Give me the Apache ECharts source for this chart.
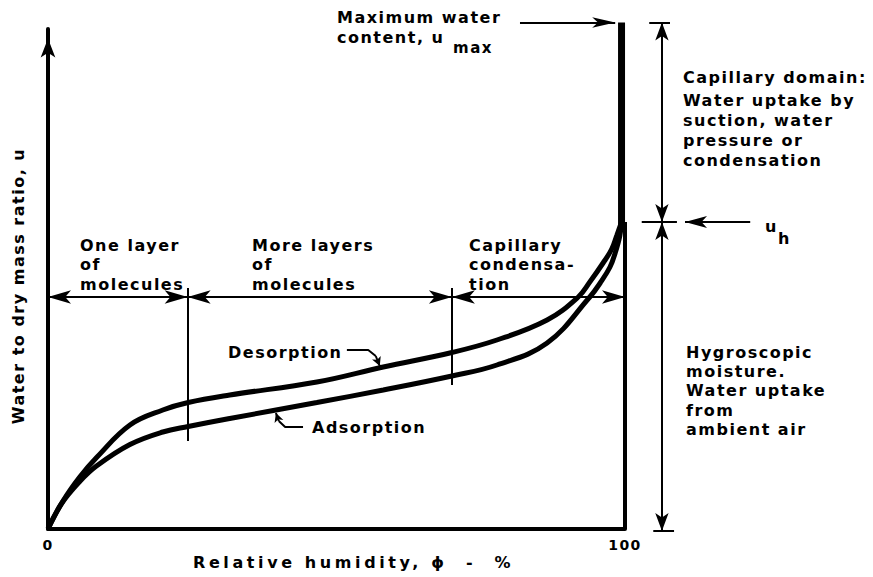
<!DOCTYPE html>
<html><head><meta charset="utf-8">
<script src="https://cdn.jsdelivr.net/npm/echarts@6/dist/echarts.min.js"></script>
<style>
html,body{margin:0;padding:0;background:#fff;}
#chart{width:873px;height:577px;}
#chart text{letter-spacing:1.5px;}
#chart text[style*="xlabelfont"], #chart text[font-family*="xlabelfont"]{letter-spacing:3.6px;}
</style></head><body><div id="chart"></div>
<script>
// ---- data ----
const rhDesorption = [0, 2.6, 5.5, 8.5, 14.2, 19.9, 24.3, 31.5, 46.6, 58.1, 70.0, 77.8, 86.5, 91.9, 93.9, 96.2, 97.7, 98.6, 99.4];
const uDesorption  = [0, 5.6, 10.4, 14.4, 20.8, 23.8, 25.3, 26.8, 29.4, 32.4, 35.3, 37.8, 41.8, 46.4, 49.4, 53.2, 56.0, 58.8, 61.4];
const rhAdsorption = [0, 2.3, 5.5, 8.4, 14.2, 19.9, 24.3, 31.5, 46.6, 58.1, 70.0, 77.8, 86.5, 93.9, 95.7, 97.4, 98.3, 99.1, 99.4];
const uAdsorption  = [0, 5.0, 9.5, 12.6, 16.9, 19.4, 20.5, 22.1, 25.3, 27.8, 30.6, 32.8, 37.2, 46.4, 49.2, 52.4, 55.2, 58.6, 61.4];
const xTickLabels = ['0', '100'];
const uHygroscopic = 61.4;      // u_h
const uMax = 101.3;             // u_max
const rhMaxLine = 99.4;
const rhZoneBounds = [0, 24.2, 70.0, 100];
const uZoneLevel = 46.4;
const uDividerTop = 48.2;
const uDividerBottom = [17.6, 28.8];
const rhDimension = 106.4;

// ---- helpers ----
const BLACK = '#000';
function pairs(xs, ys){ return xs.map((x,i)=>[x, ys[i]]); }
function polyline(points, width, extra){
  return Object.assign({type:'line', data:points, showSymbol:false, clip:false, silent:true,
    lineStyle:{color:BLACK, width:width}, z:3}, extra||{});
}
function segs(list, width, sym, size){
  return {type:'lines', coordinateSystem:'cartesian2d', clip:false, silent:true, z:4,
    symbol:sym, symbolSize:[size, size],
    lineStyle:{color:BLACK, width:width, opacity:1, curveness:0},
    data:list.map(c=>({coords:c}))};
}

const FONT = '"DejaVu Sans", sans-serif';
function txt(x, y, s, size, family){
  return {type:'text', x:x, y:y, silent:true, z:10,
    style:{text:s, fill:BLACK, fontFamily:family||FONT, fontWeight:'bold', fontSize:size||16,
      textAlign:'left', textVerticalAlign:'middle'}};
}
function block(x, ys, lines, size){ return lines.map((s,i)=>txt(x, ys[i], s, size)); }

const zoneSegs = [];
for (let i=0;i<rhZoneBounds.length-1;i++) zoneSegs.push([[rhZoneBounds[i], uZoneLevel],[rhZoneBounds[i+1], uZoneLevel]]);

const graphics = [].concat(
  [txt(337, 17.5, 'Maximum water'), txt(337, 37, 'content, u'), txt(453, 48, 'max', 15)],
  block(683, [77, 100, 120, 140, 160], ['Capillary domain:', 'Water uptake by', 'suction, water', 'pressure or', 'condensation']),
  block(686, [352, 371, 390.5, 410, 429], ['Hygroscopic', 'moisture.', 'Water uptake', 'from', 'ambient air']),
  block(80, [245, 264.5, 284], ['One layer', 'of', 'molecules']),
  block(252, [245, 264.5, 284], ['More layers', 'of', 'molecules']),
  block(469, [245, 264.5, 284], ['Capillary', 'condensa-', 'tion']),
  [txt(228, 352, 'Desorption'), txt(312, 427, 'Adsorption'),
   txt(765, 226, 'u'), txt(778, 238, 'h'),
   txt(193, 562, 'Relative humidity, \u03d5  -  %', 16, '"DejaVu Sans", xlabelfont, sans-serif'),
   {type:'text', x:18, y:286, rotation:Math.PI/2, silent:true, z:10,
    style:{text:'Water to dry mass ratio, u', fill:BLACK, fontFamily:FONT, fontWeight:'bold', fontSize:16,
      textAlign:'center', textVerticalAlign:'middle'}}]
);

const option = {
  animation:false,
  backgroundColor:'#fff',
  grid:{left:48, right:248, top:29, bottom:48, containLabel:false},
  xAxis:{type:'value', min:0, max:100, interval:100,
    axisLine:{lineStyle:{color:BLACK, width:4}},
    axisTick:{show:false}, splitLine:{show:false},
    axisLabel:{margin:9, color:BLACK, fontFamily:FONT, fontWeight:'bold', fontSize:14,
      formatter:(v)=> v===0 ? xTickLabels[0] : (v===100 ? xTickLabels[1] : '')}},
  yAxis:{type:'value', min:0, max:100,
    axisLine:{show:true, symbol:['none','arrow'], symbolSize:[11,19], symbolOffset:[0,-9.5],
      lineStyle:{color:BLACK, width:4}},
    axisTick:{show:false}, splitLine:{show:false}, axisLabel:{show:false}},
  graphic:graphics,
  series:[
    polyline(pairs(rhDesorption, uDesorption), 5, {name:'Desorption', smooth:0.4}),
    polyline(pairs(rhAdsorption, uAdsorption), 5, {name:'Adsorption', smooth:0.4}),
    polyline([[100,0],[100,uHygroscopic]], 4),
    polyline([[rhMaxLine,uHygroscopic-1],[rhMaxLine,uMax]], 7),
    segs([[[rhZoneBounds[1], uDividerTop],[rhZoneBounds[1], uDividerBottom[0]]],
          [[rhZoneBounds[2], uDividerTop],[rhZoneBounds[2], uDividerBottom[1]]]], 2, ['none','none'], 1),
    segs(zoneSegs, 2, ['arrow','arrow'], [10,23]),
    segs([[[rhDimension, uMax],[rhDimension, uHygroscopic]],[[rhDimension, uHygroscopic],[rhDimension, -0.4]]], 2, ['arrow','arrow'], [10,18]),
    segs([[[104.2, uMax],[107.8, uMax]],[[102.9, uHygroscopic],[109.0, uHygroscopic]],[[104.9,-0.4],[108.5,-0.4]]], 2, ['none','none'], 1),
    segs([[[121.7, uHygroscopic],[110.4, uHygroscopic]]], 2, ['none','arrow'], [9,22]),
    segs([[[81.8, uMax],[98.3, uMax]]], 2, ['none','arrow'], [8,23]),
    polyline([[51.8,35.8],[55.5,35.8],[56.8,34.6]], 2),
    segs([[[56.8,34.6],[57.5,32.6]]], 2, ['none','arrow'], [7,9]),
    polyline([[44.2,20.4],[41.1,20.4],[40.0,21.6]], 2),
    segs([[[40.0,21.6],[39.5,23.2]]], 2, ['none','arrow'], [7,9])
  ]
};
const chart = echarts.init(document.getElementById('chart'), null, {renderer:'svg'});
chart.setOption(option);
</script></body></html>
